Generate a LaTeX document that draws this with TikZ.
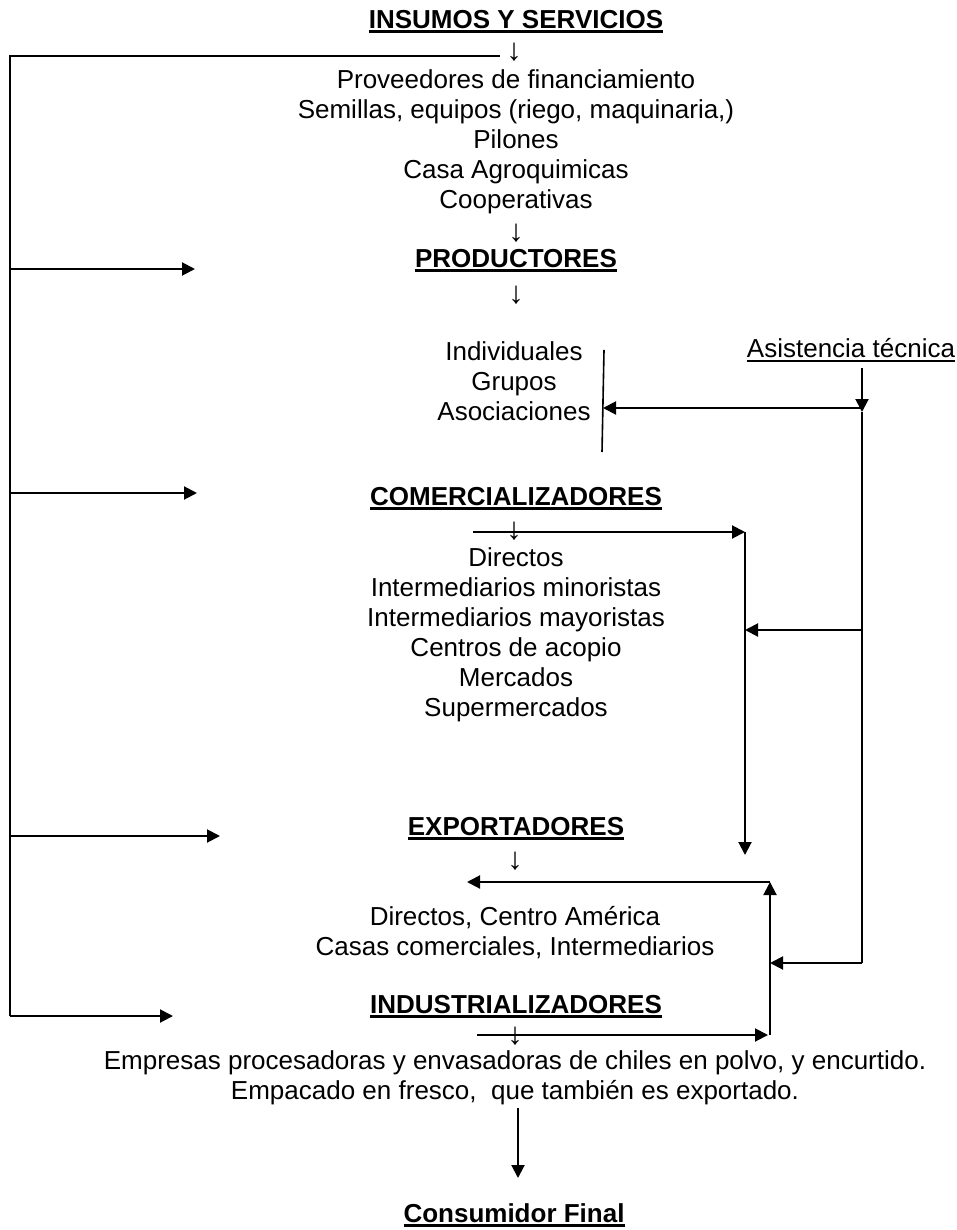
\documentclass[tikz,border=0pt]{standalone}
\usepackage{fontspec}
\setmainfont{Liberation Sans}
\usepackage{tikz}
\usetikzlibrary{positioning}
\usetikzlibrary{arrows.meta}

\newcommand{\ulBold}[1]{\setbox0\hbox{\bfseries #1}\leavevmode\rlap{\rule[-2.2pt]{\wd0}{1.4pt}}\box0}
\newcommand{\ulPlain}[1]{\setbox0\hbox{#1}\leavevmode\rlap{\rule[-2.2pt]{\wd0}{0.9pt}}\box0}

\begin{document}
\begin{tikzpicture}[
        >={Triangle[length=6.5pt, width=6.5pt]},
        line/.style = { line width = 1pt, black },
        thinLine/.style = { line width = 0.8pt, black },
        title/.style = { font = \fontsize{13}{15}\selectfont, inner sep=0pt, outer sep=0pt, text = black },
        list/.style = { font = \fontsize{13}{15}\selectfont, align = center, inner sep=0pt, outer sep=0pt, text = black },
        downSign/.style = { font = \fontsize{15.5}{17}\selectfont, inner sep=0pt, outer sep=0pt, text = black },
                ]
    \def\oneUnit{5pt}
    \useasboundingbox (0,0) rectangle (95.7*\oneUnit, -123*\oneUnit);

    \node[title] (INSUMOStitle) at (51.6*\oneUnit, -2.2*\oneUnit) {\ulBold{INSUMOS Y SERVICIOS}};
    \node[downSign] (INSUMOSarrow) at (51.4*\oneUnit, -5.2*\oneUnit) {↓};
    \node[list] (INSUMOSlist) at (51.6*\oneUnit, -14.2*\oneUnit) {Proveedores de financiamiento\\ Semillas, equipos (riego, maquinaria,)\\ Pilones\\ Casa Agroquimicas\\ Cooperativas};
    \node[downSign] (INSUMOSout) at (51.6*\oneUnit, -23.3*\oneUnit) {↓};

    \node[title] (PRODUCTOREStitle) at (51.6*\oneUnit, -26.1*\oneUnit) {\ulBold{PRODUCTORES}};
    \node[downSign] (PRODUCTORESarrow) at (51.6*\oneUnit, -29.5*\oneUnit) {↓};
    \node[list] (PRODUCTORESlist) at (51.4*\oneUnit, -38.1*\oneUnit) {Individuales\\ Grupos\\ Asociaciones};

    \node[title] (ASISTENCIAtitle) at (85.1*\oneUnit, -35.0*\oneUnit) {\ulPlain{Asistencia técnica}};

    \node[title] (COMERCIALIZADOREStitle) at (51.6*\oneUnit, -49.9*\oneUnit) {\ulBold{COMERCIALIZADORES}};
    \node[downSign] (COMERCIALIZADORESarrow) at (51.4*\oneUnit, -53.1*\oneUnit) {↓};
    \node[list] (COMERCIALIZADORESlist) at (51.6*\oneUnit, -63.5*\oneUnit) {Directos\\ Intermediarios minoristas\\ Intermediarios mayoristas\\ Centros de acopio\\ Mercados\\ Supermercados};

    \node[title] (EXPORTADOREStitle) at (51.6*\oneUnit, -82.9*\oneUnit) {\ulBold{EXPORTADORES}};
    \node[downSign] (EXPORTADORESarrow) at (51.5*\oneUnit, -86.1*\oneUnit) {↓};
    \node[list] (EXPORTADORESlist) at (51.5*\oneUnit, -93.3*\oneUnit) {Directos, Centro América\\ Casas comerciales, Intermediarios};

    \node[title] (INDUSTRIALIZADOREStitle) at (51.6*\oneUnit, -100.7*\oneUnit) {\ulBold{INDUSTRIALIZADORES}};
    \node[downSign] (INDUSTRIALIZADORESarrow) at (51.5*\oneUnit, -103.6*\oneUnit) {↓};
    \node[list] (INDUSTRIALIZADORESlist) at (51.5*\oneUnit, -107.8*\oneUnit) {Empresas procesadoras y envasadoras de chiles en polvo, y encurtido.\\ Empacado en fresco,\ \ que también es exportado.};

    \node[title] (CONSUMIDORtitle) at (51.4*\oneUnit, -121.5*\oneUnit) {\ulBold{Consumidor Final}};

    % rail on the left
    \coordinate (RAILstart) at (50.0*\oneUnit, -5.6*\oneUnit);
    \coordinate (RAILtop) at (1.0*\oneUnit, -5.6*\oneUnit);
    \coordinate (RAILbottom) at (1.0*\oneUnit, -101.6*\oneUnit);
    \coordinate (PRODUCTORESin) at (19.5*\oneUnit, -26.9*\oneUnit);
    \coordinate (COMERCIALIZADORESin) at (19.7*\oneUnit, -49.3*\oneUnit);
    \coordinate (EXPORTADORESin) at (22.0*\oneUnit, -83.6*\oneUnit);
    \coordinate (INDUSTRIALIZADORESin) at (17.3*\oneUnit, -101.6*\oneUnit);

    % rail on the right
    \coordinate (DIVtop) at (60.4*\oneUnit, -35.0*\oneUnit);
    \coordinate (DIVbottom) at (60.2*\oneUnit, -45.2*\oneUnit);
    \coordinate (ASISTtop) at (86.2*\oneUnit, -36.8*\oneUnit);
    \coordinate (ASISTjoin) at (86.2*\oneUnit, -41.2*\oneUnit);
    \coordinate (ASISTbottom) at (86.2*\oneUnit, -96.3*\oneUnit);

    \coordinate (COMstart) at (47.3*\oneUnit, -53.2*\oneUnit);
    \coordinate (COMcorner) at (74.5*\oneUnit, -53.2*\oneUnit);
    \coordinate (COMend) at (74.5*\oneUnit, -85.5*\oneUnit);

    \coordinate (EXPcorner) at (77.0*\oneUnit, -88.2*\oneUnit);
    \coordinate (EXPend) at (46.7*\oneUnit, -88.2*\oneUnit);
    \coordinate (INDstart) at (47.7*\oneUnit, -103.5*\oneUnit);
    \coordinate (INDcorner) at (77.0*\oneUnit, -103.5*\oneUnit);

    \coordinate (FINALstart) at (51.8*\oneUnit, -110.8*\oneUnit);
    \coordinate (FINALend) at (51.8*\oneUnit, -117.8*\oneUnit);

    \draw [line] (RAILstart) -- (RAILtop) -- (RAILbottom);
    \draw [line, ->] (RAILtop |- PRODUCTORESin) -- (PRODUCTORESin);
    \draw [line, ->] (RAILtop |- COMERCIALIZADORESin) -- (COMERCIALIZADORESin);
    \draw [line, ->] (RAILtop |- EXPORTADORESin) -- (EXPORTADORESin);
    \draw [line, ->] (RAILtop |- INDUSTRIALIZADORESin) -- (INDUSTRIALIZADORESin);

    \draw [thinLine] (DIVtop) -- (DIVbottom);
    \draw [line, ->] (ASISTtop) -- (ASISTjoin);
    \draw [line] (ASISTjoin) -- (ASISTbottom);
    \draw [line, ->] (86.2*\oneUnit, -40.8*\oneUnit) -- (60.3*\oneUnit, -40.8*\oneUnit);
    \draw [line, ->] (ASISTtop |- 0,-63.0*\oneUnit) -- (COMcorner |- 0,-63.0*\oneUnit);
    \draw [line, ->] (ASISTbottom) -- (EXPcorner |- ASISTbottom);

    \draw [line, ->] (COMstart) -- (COMcorner);
    \draw [line, ->] (COMcorner) -- (COMend);

    \draw [line, ->] (INDstart) -- ([xshift=-1pt]INDcorner);
    \draw [line, ->] (INDcorner) -- (EXPcorner);
    \draw [line, ->] (EXPcorner) -- (EXPend);

    \draw [line, ->] (FINALstart) -- (FINALend);
\end{tikzpicture}
\end{document}
